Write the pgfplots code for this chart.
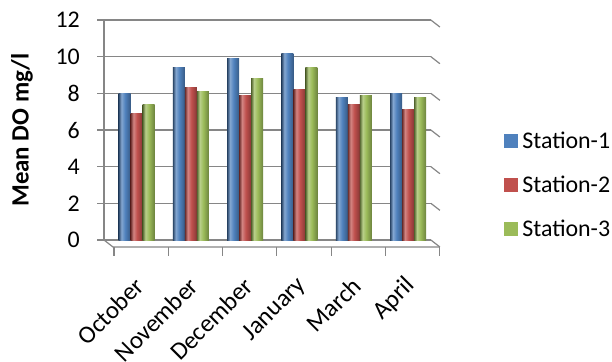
\documentclass[border=0pt]{standalone}
\usepackage{fontspec}
\setmainfont{Carlito}
\usepackage{pgfplots}
\usepackage{pgfplotstable}
\pgfplotsset{compat=1.18}
\usetikzlibrary{calc}

% Office-style series colours
\definecolor{s1}{HTML}{4F81BD}
\definecolor{s2}{HTML}{C0504D}
\definecolor{s3}{HTML}{9BBB59}
\definecolor{gridc}{RGB}{134,134,134}

% cylinder-like shading for the columns: dark edge, highlight, darker side
\colorlet{s1a}{s1!55!black}\colorlet{s1b}{s1!70!white}\colorlet{s1c}{s1!70!black}
\colorlet{s2a}{s2!55!black}\colorlet{s2b}{s2!70!white}\colorlet{s2c}{s2!70!black}
\colorlet{s3a}{s3!55!black}\colorlet{s3b}{s3!70!white}\colorlet{s3c}{s3!70!black}
\pgfdeclarehorizontalshading{cylA}{100bp}{color(0bp)=(s1a); color(25bp)=(s1a); color(37bp)=(s1b); color(52bp)=(s1); color(75bp)=(s1c); color(100bp)=(s1c)}
\pgfdeclarehorizontalshading{cylB}{100bp}{color(0bp)=(s2a); color(25bp)=(s2a); color(37bp)=(s2b); color(52bp)=(s2); color(75bp)=(s2c); color(100bp)=(s2c)}
\pgfdeclarehorizontalshading{cylC}{100bp}{color(0bp)=(s3a); color(25bp)=(s3a); color(37bp)=(s3b); color(52bp)=(s3); color(75bp)=(s3c); color(100bp)=(s3c)}

% mean dissolved oxygen (mg/l) per month and station
\pgfplotstableread{
x  s1    s2   s3
0  8.0   6.9  7.4
1  9.4   8.3  8.1
2  9.9   7.9  8.8
3  10.2  8.2  9.4
4  7.8   7.4  7.9
5  8.0   7.1  7.8
}\dotable

\begin{document}
\begin{tikzpicture}[x=1bp,y=1bp]
\path[use as bounding box] (0,0) rectangle (612,361);
\begin{axis}[
  at={(104bp,121bp)}, anchor=south west,
  x=54.3bp, y=18.33bp,
  xmin=-0.6, xmax=5.42, ymin=0, ymax=12,
  clip=false,
  axis y line*=left,
  axis x line*=bottom,
  x axis line style={draw=none},
  y axis line style={gridc, line width=1.2bp, -},
  ymajorgrids,
  grid style={gridc, line width=1.2bp},
  ytick={0,2,...,12},
  tick align=outside,
  major tick length=7bp,
  ytick style={gridc, line width=1.2bp},
  xtick={0,...,5},
  xticklabels={October,November,December,January,March,April},
  xtick style={draw=none},
  /pgf/number format/assume math mode=true,
  tick label style={font=\fontsize{24}{28}\selectfont},
  yticklabel style={anchor=east, inner sep=0pt, xshift=-17bp},
  xticklabel style={xshift=4bp, yshift=-34bp, rotate=45, anchor=east, inner sep=1bp,
    font=\fontsize{25}{30}\selectfont},
  ylabel={Mean DO mg/l},
  ylabel style={font=\bfseries\fontsize{25}{30}\selectfont, at={(axis description cs:-0.251,0.5)}, anchor=center},
  ybar=0pt, bar width=0.221,
  legend image code/.code={\fill[#1] (0bp,-7bp) rectangle (14bp,7bp);},
  legend cell align=left,
  legend style={draw=none, fill=none, at={(axis description cs:1.224,0.25)}, anchor=west,
    font=\fontsize{24}{29}\selectfont, row sep=18bp, inner sep=0pt,
    nodes={inner sep=4bp}},
]
% side wall and floor edges
\pgfplotsinvokeforeach{0,2,4,6,8,10,12}{
  \draw[gridc, line width=1.2bp] (axis cs:5.42,#1) -- ($(axis cs:5.42,#1)+(9bp,-7bp)$);
}
\draw[gridc, line width=1.2bp] (axis cs:-0.6,0) -- ($(axis cs:-0.6,0)+(9bp,-7bp)$)
  -- ($(axis cs:5.42,0)+(9bp,-7bp)$);
\pgfplotsinvokeforeach{-0.5,0.5,1.5,2.5,3.5,4.5,5.5}{
  \draw[gridc, line width=1.2bp] ($(axis cs:#1,0)+(4.5bp,-7bp)$) -- ($(axis cs:#1,0)+(4.5bp,-16bp)$);
}

% one column per month and station, so that each gets its own shading
\pgfplotsinvokeforeach{0,...,5}{
  \addplot[draw=none, shade, shading=cylA, bar shift=-0.221, forget plot,
    x filter/.expression={x==#1 ? x : nan}] table[x=x, y=s1] {\dotable};
  \addplot[draw=none, shade, shading=cylB, bar shift=0, forget plot,
    x filter/.expression={x==#1 ? x : nan}] table[x=x, y=s2] {\dotable};
  \addplot[draw=none, shade, shading=cylC, bar shift=0.221, forget plot,
    x filter/.expression={x==#1 ? x : nan}] table[x=x, y=s3] {\dotable};
}

\addlegendimage{fill=s1, draw=none}
\addlegendimage{fill=s2, draw=none}
\addlegendimage{fill=s3, draw=none}
\legend{Station-1, Station-2, Station-3}
\end{axis}
\end{tikzpicture}
\end{document}
